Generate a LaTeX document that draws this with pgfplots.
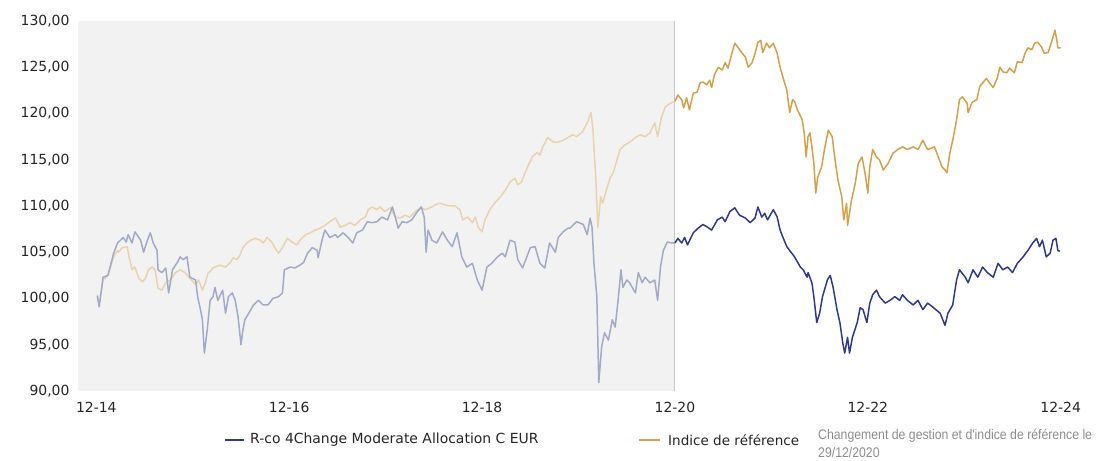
\documentclass[border=0pt]{standalone}
\usepackage{fontspec}
\setmainfont{DejaVu Sans}
\newfontfamily\condfont[FakeStretch=0.88]{Liberation Sans}
\usepackage{pgfplots}
\usepackage{pgfplotstable}
\pgfplotsset{compat=1.18}
\definecolor{fundC}{HTML}{2E3B8C}
\definecolor{fundL}{HTML}{A2AACA}
\definecolor{benchC}{HTML}{D6A04A}
\definecolor{benchL}{HTML}{EAD3AC}
\definecolor{bgG}{HTML}{F2F2F2}
\definecolor{vline}{HTML}{C8C8C8}
\definecolor{noteG}{HTML}{8E8E8E}

\pgfplotstableread{
t v
0.01 100.3
0.03 99.1
0.07 102.3
0.12 102.5
0.18 104.9
0.22 106.0
0.28 106.6
0.31 106.1
0.33 106.9
0.37 106.0
0.40 107.2
0.46 106.3
0.49 105.0
0.53 106.3
0.56 107.1
0.59 106.0
0.63 105.2
0.64 103.1
0.68 102.8
0.72 103.3
0.75 100.6
0.79 103.1
0.84 103.9
0.87 104.5
0.90 104.2
0.94 104.5
0.97 102.3
1.03 102.0
1.05 100.2
1.08 98.8
1.10 97.7
1.12 94.1
1.15 96.6
1.18 99.8
1.21 100.2
1.23 101.2
1.26 99.8
1.31 100.9
1.34 98.4
1.37 100.2
1.41 100.6
1.44 99.8
1.47 98.0
1.50 95.0
1.52 96.6
1.54 97.7
1.58 98.4
1.63 99.3
1.68 99.8
1.73 99.3
1.78 99.3
1.83 100.0
1.89 100.2
1.93 100.6
1.95 103.1
2.01 103.4
2.06 103.3
2.11 103.6
2.15 103.9
2.19 104.9
2.24 105.5
2.29 105.2
2.30 104.4
2.34 106.3
2.37 107.4
2.42 106.6
2.48 106.9
2.50 106.6
2.56 107.1
2.61 106.6
2.66 106.0
2.70 107.1
2.76 107.4
2.81 108.3
2.86 108.2
2.91 108.3
2.96 108.8
3.02 108.5
3.07 109.9
3.10 108.8
3.13 107.6
3.17 108.3
3.22 108.2
3.27 108.5
3.33 109.4
3.37 109.9
3.40 108.8
3.42 105.0
3.44 107.4
3.48 106.3
3.53 106.0
3.59 107.2
3.64 106.3
3.69 105.6
3.74 107.1
3.79 104.5
3.84 103.4
3.90 103.8
3.95 102.0
4.00 100.9
4.05 103.4
4.10 103.8
4.16 104.5
4.21 104.9
4.24 104.5
4.29 106.3
4.34 106.1
4.37 104.2
4.42 103.3
4.50 105.5
4.55 105.6
4.60 103.8
4.65 103.3
4.70 106.0
4.76 105.0
4.79 106.6
4.84 107.2
4.89 107.6
4.91 107.6
4.98 108.3
5.05 108.0
5.09 106.9
5.12 108.7
5.14 107.7
5.16 103.8
5.19 100.2
5.21 90.9
5.24 94.8
5.27 96.3
5.31 95.5
5.35 97.7
5.38 96.9
5.41 99.8
5.44 103.1
5.46 101.2
5.50 102.0
5.53 101.7
5.59 100.6
5.62 102.8
5.66 101.7
5.69 102.3
5.74 101.7
5.79 102.0
5.82 99.8
5.85 103.4
5.88 105.2
5.92 106.1
5.97 106.0
6.00 106.0
}\fundpre

\pgfplotstableread{
t v
6.00 106.0
6.03 106.5
6.07 106.0
6.10 106.6
6.13 105.8
6.19 107.1
6.24 107.6
6.29 108.0
6.34 107.7
6.38 107.4
6.44 108.5
6.49 108.8
6.52 108.3
6.57 109.4
6.62 109.8
6.67 109.0
6.73 108.7
6.78 108.2
6.83 108.7
6.86 109.9
6.90 108.8
6.93 109.2
6.96 108.5
7.02 109.6
7.06 108.8
7.09 107.4
7.12 106.6
7.16 105.6
7.24 104.5
7.30 103.4
7.33 103.1
7.37 102.3
7.38 102.8
7.42 101.7
7.44 100.2
7.47 97.4
7.50 98.4
7.53 100.2
7.58 102.0
7.61 102.5
7.64 101.2
7.68 98.8
7.71 97.4
7.74 95.2
7.76 94.1
7.79 95.8
7.81 94.1
7.84 95.8
7.89 97.4
7.92 99.0
7.95 98.8
7.99 97.4
8.02 99.5
8.05 100.4
8.09 100.9
8.12 100.2
8.18 99.5
8.23 99.8
8.28 100.2
8.33 99.8
8.36 100.4
8.41 99.8
8.47 99.3
8.52 99.8
8.57 98.8
8.62 99.5
8.67 99.1
8.75 98.4
8.80 97.1
8.83 98.4
8.88 99.3
8.92 102.0
8.95 103.1
9.01 102.3
9.04 101.7
9.09 103.1
9.14 102.3
9.19 103.4
9.24 102.8
9.30 102.3
9.35 103.8
9.40 103.1
9.45 103.4
9.50 102.8
9.55 103.8
9.61 104.5
9.66 105.2
9.71 106.0
9.75 106.5
9.78 105.6
9.81 106.3
9.85 104.5
9.89 104.9
9.92 106.3
9.95 106.5
9.97 105.2
9.99 105.1
}\fundpost

\pgfplotstableread{
t v
0.01 100.4
0.03 99.5
0.07 102.0
0.12 102.5
0.18 104.5
0.22 105.2
0.23 105.0
0.27 105.5
0.32 105.6
0.34 104.5
0.37 103.1
0.40 103.4
0.44 102.2
0.48 101.8
0.51 102.2
0.54 103.1
0.58 103.4
0.61 103.1
0.64 101.1
0.68 100.9
0.72 101.7
0.77 102.0
0.82 102.8
0.87 103.1
0.92 102.8
0.97 102.2
1.03 101.5
1.06 102.0
1.10 100.9
1.13 101.7
1.16 102.8
1.18 102.9
1.21 103.3
1.23 103.4
1.28 103.6
1.34 103.4
1.39 103.9
1.42 104.4
1.46 104.2
1.49 104.7
1.52 105.5
1.56 106.0
1.60 106.3
1.65 106.5
1.70 106.3
1.73 106.0
1.77 106.6
1.82 106.1
1.85 105.5
1.89 104.9
1.93 105.5
1.98 106.5
2.03 106.1
2.08 105.8
2.11 106.3
2.17 106.9
2.22 107.1
2.27 107.4
2.32 107.6
2.37 107.9
2.42 108.3
2.48 108.7
2.53 107.7
2.58 107.9
2.63 108.2
2.68 107.9
2.74 108.5
2.79 108.8
2.82 109.6
2.86 109.9
2.91 109.6
2.94 109.9
2.99 109.4
3.05 109.8
3.10 108.8
3.15 108.7
3.20 109.0
3.25 108.8
3.31 109.4
3.36 109.8
3.41 109.6
3.46 109.8
3.51 110.1
3.56 110.3
3.62 110.1
3.67 110.0
3.72 110.0
3.77 109.6
3.80 108.5
3.85 108.8
3.90 108.2
3.93 108.8
3.96 107.7
4.00 107.2
4.03 108.5
4.08 109.6
4.13 110.3
4.19 111.0
4.24 111.7
4.29 112.6
4.34 113.0
4.37 112.3
4.41 112.6
4.45 113.7
4.48 114.4
4.52 115.3
4.57 115.8
4.60 115.5
4.63 116.4
4.68 117.4
4.74 116.9
4.79 116.9
4.84 117.1
4.89 117.4
4.94 117.7
4.98 117.5
5.04 118.0
5.09 119.0
5.13 120.1
5.15 118.2
5.18 112.8
5.20 107.7
5.23 111.0
5.25 110.3
5.30 112.1
5.33 113.1
5.36 113.6
5.40 115.0
5.43 116.1
5.48 116.6
5.53 116.9
5.59 117.4
5.64 117.7
5.69 117.5
5.74 117.9
5.79 119.0
5.82 117.5
5.86 119.6
5.90 120.7
5.95 121.1
6.00 121.3
}\benchpre

\pgfplotstableread{
t v
6.00 121.3
6.03 122.0
6.07 121.5
6.09 120.6
6.12 121.7
6.15 120.4
6.19 122.2
6.23 122.3
6.26 123.3
6.29 123.4
6.33 123.1
6.36 123.6
6.38 122.8
6.41 124.2
6.45 125.0
6.49 124.7
6.52 125.5
6.55 124.9
6.59 126.5
6.62 127.6
6.65 127.2
6.69 126.6
6.73 126.1
6.76 125.0
6.80 125.5
6.83 126.5
6.86 127.7
6.89 127.9
6.91 126.6
6.95 127.6
6.98 127.1
7.02 127.6
7.06 126.5
7.09 125.0
7.12 123.9
7.16 122.5
7.19 120.1
7.22 121.5
7.24 121.3
7.27 120.4
7.32 119.3
7.34 117.9
7.36 115.3
7.38 117.5
7.40 117.9
7.42 116.4
7.44 114.6
7.46 111.4
7.48 113.1
7.52 114.2
7.55 116.1
7.59 118.2
7.63 117.5
7.66 115.0
7.69 112.8
7.73 111.0
7.75 108.5
7.78 110.3
7.79 107.9
7.83 110.6
7.87 112.5
7.90 114.6
7.94 115.3
7.97 113.6
8.00 111.4
8.02 114.2
8.05 116.1
8.09 115.3
8.12 115.0
8.16 113.9
8.21 114.6
8.26 115.7
8.31 116.1
8.36 116.4
8.41 116.1
8.47 116.4
8.52 116.1
8.57 117.1
8.62 116.1
8.67 116.3
8.69 116.4
8.73 115.3
8.77 114.2
8.80 113.9
8.82 113.6
8.85 115.7
8.88 117.1
8.92 119.3
8.95 121.5
8.98 121.8
9.03 121.1
9.04 120.1
9.08 121.2
9.13 121.5
9.16 122.9
9.19 123.3
9.23 123.8
9.26 123.3
9.30 122.8
9.34 123.8
9.37 125.0
9.40 124.5
9.44 124.4
9.47 124.9
9.52 124.4
9.55 125.6
9.60 125.5
9.63 126.5
9.66 127.1
9.70 126.9
9.73 127.6
9.76 127.7
9.80 127.2
9.83 126.5
9.87 126.6
9.91 127.9
9.94 129.0
9.96 127.9
9.97 127.1
10.00 127.1
}\benchpost

\begin{document}
\begin{tikzpicture}[x=1bp,y=1bp]
\useasboundingbox (-78,-70) rectangle (1020,391);
\begin{axis}[
  at={(0,0)}, anchor=south west,
  scale only axis, width=1002bp, height=370bp,
  xmin=-0.19, xmax=10.2, ymin=90, ymax=130,
  xtick={0,2,4,6,8,10},
  xticklabels={12-14,12-16,12-18,12-20,12-22,12-24},
  ytick={90,95,...,130},
  axis line style={draw=none},
  major tick length=0pt,
  tick label style={font=\fontsize{14}{16}\selectfont, text=black!85},
  /pgf/number format/fixed,
  /pgf/number format/fixed zerofill,
  /pgf/number format/precision=2,
  /pgf/number format/use comma,
  /pgf/number format/assume math mode=true,
  xticklabel style={yshift=-8bp},
  yticklabel style={xshift=-5bp},
  clip=false,
]
\fill[bgG] (axis cs:-0.19,90) rectangle (axis cs:6,130);
\draw[vline, line width=1bp] (axis cs:6,90) -- (axis cs:6,130);
\addplot[benchL, line width=1.5bp, line join=round] table[x=t,y=v] {\benchpre};
\addplot[fundL, line width=1.5bp, line join=round] table[x=t,y=v] {\fundpre};
\addplot[benchC, line width=1.5bp, line join=round] table[x=t,y=v] {\benchpost};
\addplot[fundC, line width=1.5bp, line join=round] table[x=t,y=v] {\fundpost};
\end{axis}
\draw[fundC, line width=1.6bp] (147,-49) -- (166,-49);
\node[anchor=west, inner sep=0pt, font=\fontsize{14}{16}\selectfont, text=black!85] at (172,-49) {R-co 4Change Moderate Allocation C EUR};
\draw[benchC, line width=1.6bp] (561,-49) -- (582,-49);
\node[anchor=west, inner sep=0pt, font=\fontsize{13.6}{16}\selectfont, text=black!85] at (590,-49) {Indice de référence};
\node[anchor=north west, inner sep=0pt, align=left, text=noteG, font=\condfont\fontsize{14}{18}\selectfont] at (740,-38) {Changement de gestion et d'indice de référence le\\29/12/2020};
\end{tikzpicture}
\end{document}
